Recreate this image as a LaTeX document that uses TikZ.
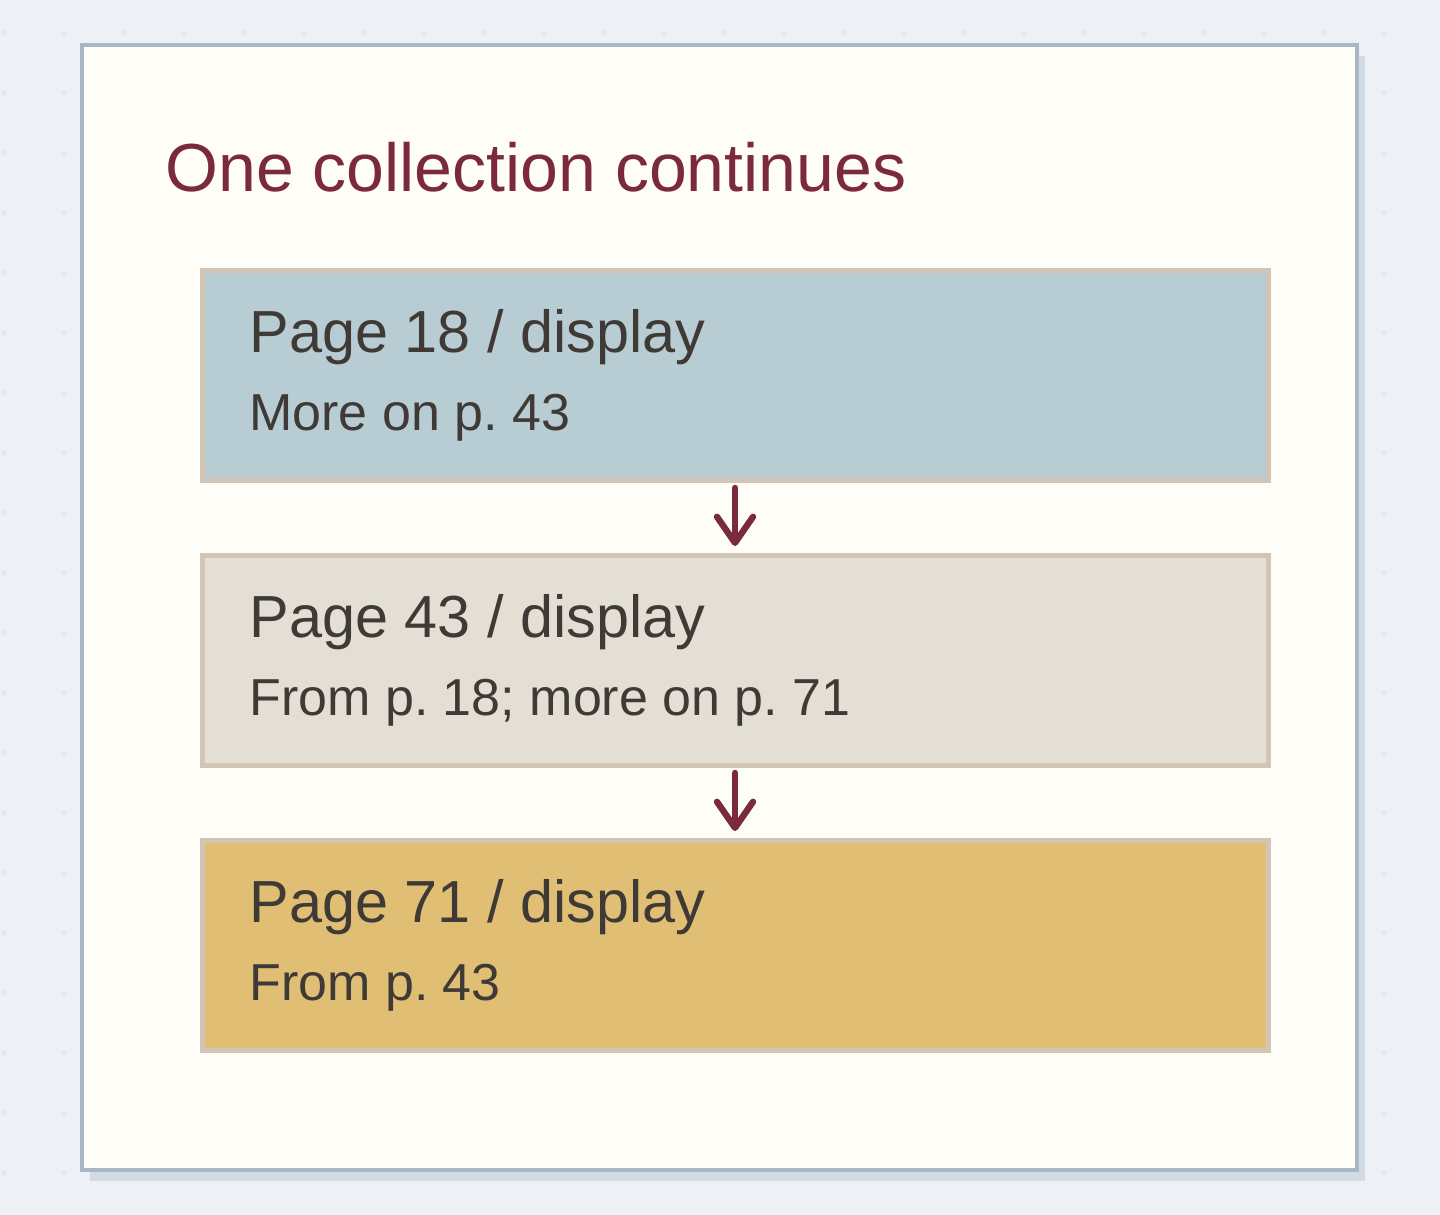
\documentclass[tikz,border=0pt]{standalone}
\usepackage{fontspec}
\setmainfont{Liberation Sans}
\usetikzlibrary{arrows.meta,positioning}
\frenchspacing

\definecolor{pagebg}{HTML}{EDF0F5}
\definecolor{pagedot}{HTML}{E3E7EE}
\definecolor{framefill}{HTML}{FFFDF7}
\definecolor{frameline}{HTML}{A9B6C3}
\definecolor{frameshadow}{HTML}{D3DBE4}
\definecolor{maroon}{HTML}{7B2A3B}
\definecolor{boxline}{HTML}{D2C5B6}
\definecolor{boxblue}{HTML}{B8CCD4}
\definecolor{boxgrey}{HTML}{E3DFD5}
\definecolor{boxgold}{HTML}{E0BF75}
\definecolor{ink}{HTML}{3F3A36}

\begin{document}
\begin{tikzpicture}[x=0.5pt,y=-0.5pt,
		flow/.style={-{Straight Barb[length=13pt,width=18pt,line cap=round,round]},
			draw=maroon,line width=3.2pt,line cap=round,shorten <=4pt,shorten >=4.5pt}]
		\tikzstyle{page}=[rectangle,draw=boxline,line width=2.5pt,outer sep=0pt,
			minimum width=533pt,minimum height=105pt,inner sep=0pt]
		\tikzstyle{heading}=[anchor=base west,inner sep=0pt,text=ink,font=\fontsize{29.7}{34}\selectfont]
		\tikzstyle{note}=[anchor=base west,inner sep=0pt,text=ink,font=\fontsize{26}{30}\selectfont]
		
		% background with faint dots
		\useasboundingbox (0,0) rectangle (1440,1215);
		\fill[pagebg] (0,0) rectangle (1440,1215);
		\foreach \x in {4,64,...,1440}
			\foreach \y in {33,93,...,1215}
				\fill[pagedot] (\x,\y) circle[radius=1.3pt];
		
		% card with shadow
		\fill[frameshadow] (90,56) rectangle (1365,1181);
		\draw[frameline,fill=framefill,line width=2pt] (82,45) rectangle (1357,1169.5);
		
		\node[anchor=base west,inner sep=0pt,text=maroon,font=\fontsize{34}{40}\selectfont]
			(Title) at (165,191) {One collection continues};
		
		\node[page,fill=boxblue]	(P18)	at (735,375)			{};
		\node[page,fill=boxgrey]	(P43)	[below=37.5pt of P18]	{};
		\node[page,fill=boxgold]	(P71)	[below=37.5pt of P43]	{};
		
		\node[heading]	(P18head)	at ([shift={(47,82)}]P18.north west)	{Page 18 / display};
		\node[note]		(P18note)	at ([shift={(47,160)}]P18.north west)	{More on p. 43};
		\node[heading]	(P43head)	at ([shift={(47,82)}]P43.north west)	{Page 43 / display};
		\node[note]		(P43note)	at ([shift={(47,160)}]P43.north west)	{From p. 18; more on p. 71};
		\node[heading]	(P71head)	at ([shift={(47,82)}]P71.north west)	{Page 71 / display};
		\node[note]		(P71note)	at ([shift={(47,160)}]P71.north west)	{From p. 43};
		
		\draw[flow] (P18) -- (P43);
		\draw[flow] (P43) -- (P71);
		\end{tikzpicture}
\end{document}
